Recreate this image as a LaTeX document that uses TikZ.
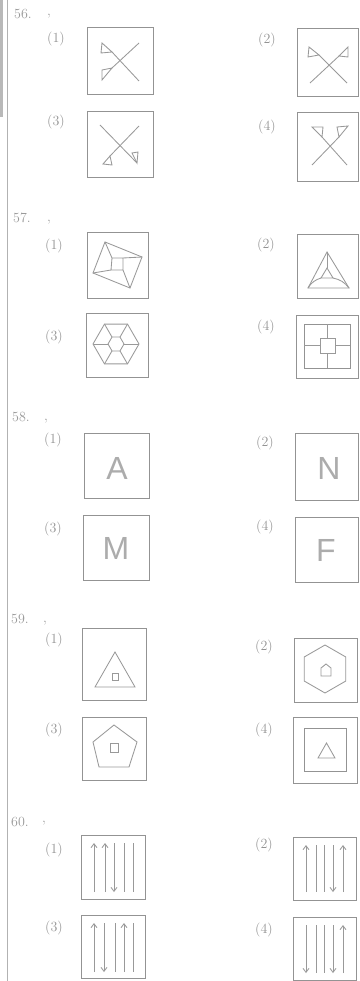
\documentclass[tikz,border=0pt]{standalone}
\usepackage{fontspec}
\newfontfamily\lettfont{Liberation Sans}
\usetikzlibrary{arrows.meta}
\tikzset{
  boxln/.style={draw=gray!85, line width=1pt},
  figln/.style={draw=gray!80, line width=0.85pt},
  lbl/.style={text=gray!85, font=\fontsize{14}{16}\selectfont, inner sep=0pt},
  qnum/.style={text=gray!80, font=\fontsize{14}{16}\selectfont, inner sep=0pt},
  bigletter/.style={text=gray!65, font=\lettfont\fontsize{32}{36}\selectfont, inner sep=0pt},
  arr/.style={figln, -{Straight Barb[length=4pt,width=6pt]}},
  plain/.style={figln}
}
\begin{document}
\begin{tikzpicture}[x=1pt,y=-1pt]
\useasboundingbox (0,0) rectangle (359,981);
\fill[white] (0,0) rectangle (359,981);
% left margin
\fill[gray!55] (0,0) rectangle (2.5,117);
\draw[gray!60, line width=0.7pt] (7.5,0) -- (7.5,981);

% ================= 56 =================
\node[qnum] (n56) at (23,14) {56.};
\node[qnum] (c56) at (49,16) {,};
\node[lbl] (l561) at (56,39) {(1)};
\node[lbl] (l563) at (56,122) {(3)};
\node[lbl] (l562) at (267,40) {(2)};
\node[lbl] (l564) at (267,127) {(4)};
\draw[boxln] (87,28) rectangle (153,95);
\draw[boxln] (87,112) rectangle (153,178);
\draw[boxln] (297,29) rectangle (358,97);
\draw[boxln] (297,113) rectangle (358,182);
% 56(1)
\draw[figln] (112,52) -- (139,81);
\draw[figln] (139,43) -- (112,68);
\draw[figln] (102,43) -- (101,53) -- (112,52) -- cycle;
\draw[figln] (102,70) -- (102,80) -- (112,68) -- cycle;
% 56(3)
\draw[figln] (100,125) -- (137,163);
\draw[figln] (139,126) -- (110,156);
\draw[figln] (132,153) -- (138,152) -- (137,163) -- cycle;
\draw[figln] (103,164) -- (110,156) -- (112,165) -- cycle;
% 56(2)
\draw[figln] (319,55) -- (347,83);
\draw[figln] (339,56) -- (310,83);
\draw[figln] (309,47) -- (308,57) -- (319,55) -- cycle;
\draw[figln] (348,47) -- (348,57) -- (339,56) -- cycle;
% 56(4)
\draw[figln] (322,137) -- (347,165);
\draw[figln] (339,137) -- (312,165);
\draw[figln] (312,127) -- (323,127) -- (322,137) -- cycle;
\draw[figln] (337,127) -- (348,126) -- (339,137) -- cycle;

% ================= 57 =================
\node[qnum] (n57) at (22,218) {57.};
\node[qnum] (c57) at (49,222) {,};
\node[lbl] (l571) at (54,246) {(1)};
\node[lbl] (l573) at (54,337) {(3)};
\node[lbl] (l572) at (266,245) {(2)};
\node[lbl] (l574) at (266,327) {(4)};
\draw[boxln] (87,233) rectangle (148,298);
\draw[boxln] (86,313) rectangle (148,377);
\draw[boxln] (297,235) rectangle (358,298);
\draw[boxln] (296,315) rectangle (358,378);
% 57(1)
\draw[figln] (105,242) -- (142,257) -- (130,288) -- (93,273) -- cycle;
\draw[figln] (112,258) -- (123,258) -- (123,270) -- (111,270) -- cycle;
\draw[figln] (105,242) -- (112,258);
\draw[figln] (142,257) -- (123,258);
\draw[figln] (130,288) -- (123,270);
\draw[figln] (93,273) -- (111,270);
% 57(3)
\draw[figln] (116,344) ++(0:23) -- ++(120:23) -- ++(180:23) -- ++(240:23) -- ++(300:23) -- ++(0:23) -- cycle;
\draw[figln] (116,344) ++(0:8) -- ++(120:8) -- ++(180:8) -- ++(240:8) -- ++(300:8) -- ++(0:8) -- cycle;
\foreach \a in {0,60,...,300}{
  \draw[figln] (116,344) ++(\a:8) -- ++(\a:15);
}
% 57(2)
\draw[figln] (327,252) -- (308,288) -- (349,288) -- cycle;
\draw[figln] (327,268) -- (321,278) -- (333,278) -- cycle;
\draw[figln] (327,252) -- (327,268);
\draw[figln] (321,278) to[bend right=20] (308,288);
\draw[figln] (333,278) to[bend left=20] (349,288);
% 57(4)
\draw[boxln] (304,324) rectangle (350,368);
\draw[figln] (320,338) rectangle (335,353);
\draw[figln] (327.5,324) -- (327.5,338);
\draw[figln] (327.5,353) -- (327.5,368);
\draw[figln] (304,345.5) -- (320,345.5);
\draw[figln] (335,345.5) -- (350,345.5);

% ================= 58 =================
\node[qnum] (n58) at (21,417) {58.};
\node[qnum] (c58) at (46,421) {,};
\node[lbl] (l581) at (53,440) {(1)};
\node[lbl] (l583) at (53,529) {(3)};
\node[lbl] (l582) at (265,443) {(2)};
\node[lbl] (l584) at (265,527) {(4)};
\draw[boxln] (84,433) rectangle (149,498);
\draw[boxln] (83,515) rectangle (149,580);
\draw[boxln] (295,433) rectangle (358,500);
\draw[boxln] (295,517) rectangle (358,582);
\node[bigletter] (tA) at (117,468) {A};
\node[bigletter] (tM) at (116,548) {M};
\node[bigletter] (tN) at (329,468) {N};
\node[bigletter] (tF) at (326,550) {F};

% ================= 59 =================
\node[qnum] (n59) at (20,619) {59.};
\node[qnum] (c59) at (45,623) {,};
\node[lbl] (l591) at (54,640) {(1)};
\node[lbl] (l593) at (54,730) {(3)};
\node[lbl] (l592) at (264,647) {(2)};
\node[lbl] (l594) at (264,730) {(4)};
\draw[boxln] (82,628) rectangle (146,700);
\draw[boxln] (82,717) rectangle (146,780);
\draw[boxln] (294,638) rectangle (357,702);
\draw[boxln] (293,717) rectangle (357,783);
% 59(1)
\draw[figln] (115,652) -- (95,687) -- (135,687) -- cycle;
\draw[figln] (112,673) rectangle (118,680);
% 59(3)
\draw[figln] (114,725) -- (137,742) -- (129,767) -- (99,767) -- (93,742) -- cycle;
\draw[figln] (110,743) rectangle (118,752);
% 59(2)
\draw[figln] (325,645) -- (304.2,657) -- (304.2,681) -- (325,693) -- (345.8,681) -- (345.8,657) -- cycle;
\draw[figln] (326,664) -- (331,668) -- (331,676) -- (321,676) -- (321,668) -- cycle;
% 59(4)
\draw[boxln] (304,728) rectangle (346,771);
\draw[figln] (326.5,743) -- (318,758) -- (335,758) -- cycle;

% ================= 60 =================
\node[qnum] (n60) at (20,822) {60.};
\node[qnum] (c60) at (44,823) {,};
\node[lbl] (l601) at (54,850) {(1)};
\node[lbl] (l603) at (54,928) {(3)};
\node[lbl] (l602) at (264,845) {(2)};
\node[lbl] (l604) at (264,930) {(4)};
\draw[boxln] (81,835) rectangle (145,899);
\draw[boxln] (81,915) rectangle (145,978);
\draw[boxln] (293,837) rectangle (356,900);
\draw[boxln] (293,917) rectangle (356,980);
% 60(1): up up down - -
\draw[arr] (94,892) -- (94,843);
\draw[arr] (105,892) -- (105,843);
\draw[arr] (114,843) -- (114,892);
\draw[plain] (124,843) -- (124,892);
\draw[plain] (133,843) -- (133,892);
% 60(3): up down - up -
\draw[arr] (94,972) -- (94,923);
\draw[arr] (104,923) -- (104,972);
\draw[plain] (115,923) -- (115,972);
\draw[arr] (124,972) -- (124,923);
\draw[plain] (133,923) -- (133,972);
% 60(2): up - - down up
\draw[arr] (306,892) -- (306,845);
\draw[plain] (316,845) -- (316,892);
\draw[plain] (324,845) -- (324,892);
\draw[arr] (333,845) -- (333,892);
\draw[arr] (343,892) -- (343,845);
% 60(4): down - - down up
\draw[arr] (306,925) -- (306,973);
\draw[plain] (316,925) -- (316,973);
\draw[plain] (324,925) -- (324,973);
\draw[arr] (333,925) -- (333,973);
\draw[arr] (343,973) -- (343,925);
\end{tikzpicture}
\end{document}
